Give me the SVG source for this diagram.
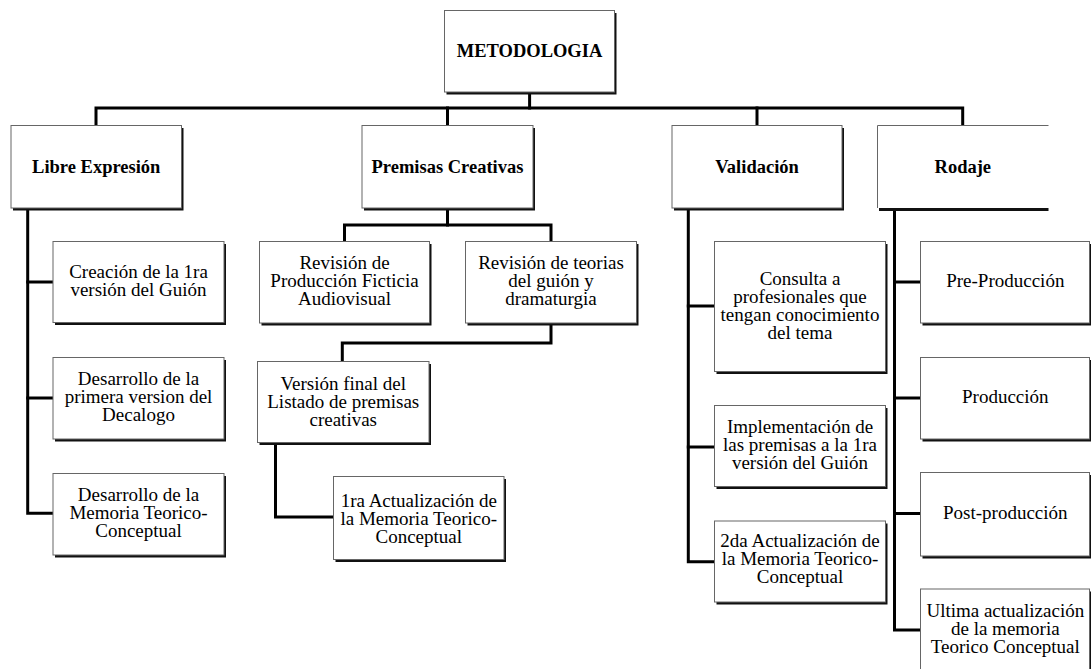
<svg xmlns="http://www.w3.org/2000/svg" width="1091" height="669" viewBox="0 0 1091 669">
<style>
.sh{fill:#111;stroke:none}
.bx{fill:#fff;stroke:#666;stroke-width:1}
.ln{fill:none;stroke:#000;stroke-width:3;stroke-linejoin:miter;stroke-linecap:square}
.h{font-family:"Liberation Serif","Times New Roman",serif;font-size:18.5px;font-weight:bold;text-anchor:middle;fill:#000}
.t{font-family:"Liberation Serif","Times New Roman",serif;font-size:19px;text-anchor:middle;fill:#000}
</style>
<rect x="0" y="0" width="1091" height="669" fill="#fff"/>
<g id="connectors">
<path class="ln" d="M529.6 92 V108"/>
<path class="ln" d="M96 125 V108 H962.7 V125"/>
<path class="ln" d="M447.5 108 V125"/>
<path class="ln" d="M757 108 V125"/>
<path class="ln" d="M27.7 210 V513.3 H52"/>
<path class="ln" d="M27.7 282 H52"/>
<path class="ln" d="M27.7 398 H52"/>
<path class="ln" d="M447.5 210 V225"/>
<path class="ln" d="M344.5 241 V225 H551 V241"/>
<path class="ln" d="M551 325 V343 H342.3 V361"/>
<path class="ln" d="M275.5 444 V517 H332"/>
<path class="ln" d="M688.3 210 V561.7 H713"/>
<path class="ln" d="M688.3 306 H713"/>
<path class="ln" d="M688.3 447 H713"/>
<path class="ln" d="M894.5 210 V630 H919"/>
<path class="ln" d="M894.5 282 H919"/>
<path class="ln" d="M894.5 398 H919"/>
<path class="ln" d="M894.5 513.5 H919"/>
</g>
<g id="n-metodologia">
<rect class="sh" x="446.5" y="13" width="170" height="81.5"/>
<rect class="bx" x="444.5" y="10.5" width="170" height="81.5"/>
<text class="h" x="529.5" y="57">METODOLOGIA</text>
</g>
<g id="n-libre">
<rect class="sh" x="13" y="128" width="170.5" height="82.5"/>
<rect class="bx" x="11" y="125.5" width="170.5" height="82.5"/>
<text class="h" x="96.25" y="172.5">Libre Expresión</text>
</g>
<g id="n-premisas">
<rect class="sh" x="364" y="128" width="171" height="82.5"/>
<rect class="bx" x="362" y="125.5" width="171" height="82.5"/>
<text class="h" x="447.5" y="172.5">Premisas Creativas</text>
</g>
<g id="n-validacion">
<rect class="sh" x="674" y="128" width="170" height="82.5"/>
<rect class="bx" x="672" y="125.5" width="170" height="82.5"/>
<text class="h" x="757" y="172.5">Validación</text>
</g>
<g id="n-rodaje">
<rect x="877.5" y="125.5" width="171" height="82.5" fill="#fff"/>
<path d="M1048.5 125.5 H877.5 V208" fill="none" stroke="#666" stroke-width="1"/>
<path d="M879 209.5 H1048.5" fill="none" stroke="#111" stroke-width="3"/>
<text class="h" x="962.8" y="172.5">Rodaje</text>
</g>
<g id="n-creacion">
<rect class="sh" x="55" y="244" width="171" height="81"/>
<rect class="bx" x="53" y="241.5" width="171" height="81"/>
<text class="t" x="138.5" y="278">Creación de la 1ra</text>
<text class="t" x="138.5" y="296">versión del Guión</text>
</g>
<g id="n-decalogo">
<rect class="sh" x="55" y="360" width="171" height="81.5"/>
<rect class="bx" x="53" y="357.5" width="171" height="81.5"/>
<text class="t" x="138.5" y="384.5">Desarrollo de la</text>
<text class="t" x="138.5" y="402.5">primera version del</text>
<text class="t" x="138.5" y="420.5">Decalogo</text>
</g>
<g id="n-memoria1">
<rect class="sh" x="55" y="476" width="171" height="81.5"/>
<rect class="bx" x="53" y="473.5" width="171" height="81.5"/>
<text class="t" x="138.5" y="500.5">Desarrollo de la</text>
<text class="t" x="138.5" y="518.5">Memoria Teorico-</text>
<text class="t" x="138.5" y="536.5">Conceptual</text>
</g>
<g id="n-revprod">
<rect class="sh" x="261.5" y="244" width="170" height="81.5"/>
<rect class="bx" x="259.5" y="241.5" width="170" height="81.5"/>
<text class="t" x="344.5" y="268.5">Revisión de</text>
<text class="t" x="344.5" y="286.5">Producción Ficticia</text>
<text class="t" x="344.5" y="304.5">Audiovisual</text>
</g>
<g id="n-revteorias">
<rect class="sh" x="467.5" y="244" width="171" height="81.5"/>
<rect class="bx" x="465.5" y="241.5" width="171" height="81.5"/>
<text class="t" x="551" y="268.5">Revisión de teorias</text>
<text class="t" x="551" y="286.5">del guión y</text>
<text class="t" x="551" y="304.5">dramaturgia</text>
</g>
<g id="n-version">
<rect class="sh" x="259.5" y="364" width="171.5" height="81"/>
<rect class="bx" x="257.5" y="361.5" width="171.5" height="81"/>
<text class="t" x="343.25" y="390">Versión final del</text>
<text class="t" x="343.25" y="408">Listado de premisas</text>
<text class="t" x="343.25" y="426">creativas</text>
</g>
<g id="n-act1">
<rect class="sh" x="335.5" y="479" width="170.5" height="83"/>
<rect class="bx" x="333.5" y="476.5" width="170.5" height="83"/>
<text class="t" x="418.75" y="506.5">1ra Actualización de</text>
<text class="t" x="418.75" y="524.5">la Memoria Teorico-</text>
<text class="t" x="418.75" y="542.5">Conceptual</text>
</g>
<g id="n-consulta">
<rect class="sh" x="716.5" y="244" width="171" height="130"/>
<rect class="bx" x="714.5" y="241.5" width="171" height="130"/>
<text class="t" x="800" y="284.5">Consulta a</text>
<text class="t" x="800" y="302.5">profesionales que</text>
<text class="t" x="800" y="320.5">tengan conocimiento</text>
<text class="t" x="800" y="338.5">del tema</text>
</g>
<g id="n-implementacion">
<rect class="sh" x="716.5" y="408" width="171" height="81"/>
<rect class="bx" x="714.5" y="405.5" width="171" height="81"/>
<text class="t" x="800" y="432.5">Implementación de</text>
<text class="t" x="800" y="450.5">las premisas a la 1ra</text>
<text class="t" x="800" y="468.5">versión del Guión</text>
</g>
<g id="n-act2">
<rect class="sh" x="716.5" y="523.5" width="171" height="81"/>
<rect class="bx" x="714.5" y="521" width="171" height="81"/>
<text class="t" x="800" y="547">2da Actualización de</text>
<text class="t" x="800" y="565">la Memoria Teorico-</text>
<text class="t" x="800" y="583">Conceptual</text>
</g>
<g id="n-preprod">
<rect class="sh" x="922.5" y="244" width="169" height="81.5"/>
<rect class="bx" x="920.5" y="241.5" width="169" height="81.5"/>
<text class="t" x="1005.3" y="287">Pre-Producción</text>
</g>
<g id="n-prod">
<rect class="sh" x="922.5" y="360" width="169" height="81.5"/>
<rect class="bx" x="920.5" y="357.5" width="169" height="81.5"/>
<text class="t" x="1005.3" y="403">Producción</text>
</g>
<g id="n-post">
<rect class="sh" x="922.5" y="475" width="169" height="83.5"/>
<rect class="bx" x="920.5" y="472.5" width="169" height="83.5"/>
<text class="t" x="1005.3" y="519">Post-producción</text>
</g>
<g id="n-ultima">
<rect class="sh" x="922.5" y="591.5" width="169" height="82"/>
<rect class="bx" x="920.5" y="589" width="169" height="82"/>
<text class="t" x="1005.3" y="616.5">Ultima actualización</text>
<text class="t" x="1005.3" y="634.5">de la memoria</text>
<text class="t" x="1005.3" y="652.5">Teorico Conceptual</text>
</g>
</svg>
